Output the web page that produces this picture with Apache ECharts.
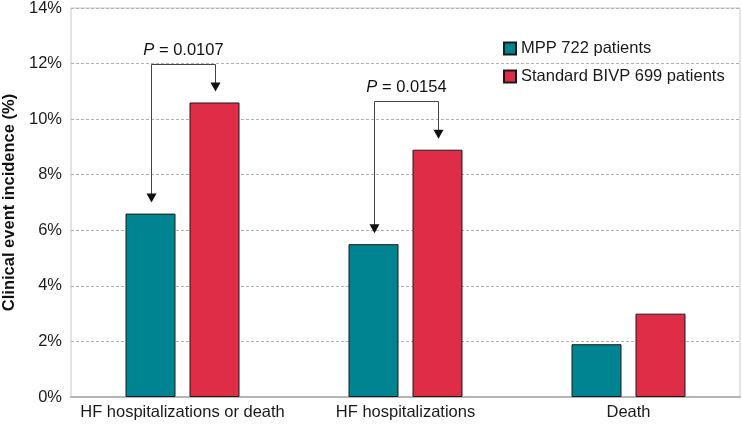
<!DOCTYPE html>
<html>
<head>
<meta charset="utf-8">
<script src="https://cdn.jsdelivr.net/npm/echarts@6/dist/echarts.min.js"></script>
<style>
  html, body { margin: 0; padding: 0; background: #fff; }
  #main { width: 742px; height: 426px; }
</style>
</head>
<body>
<div id="main"></div>
<script>
// categories and values (%)
var categories = ['HF hospitalizations or death', 'HF hospitalizations', 'Death'];
var mppValues = [6.6, 5.5, 1.9];
var bivpValues = [10.6, 8.9, 3.0];
var seriesNames = ['MPP 722 patients', 'Standard BIVP 699 patients'];

// p-value brackets: category index, bracket top (%), label
var pCategory = [0, 1];
var pTop = [12, 10.65];
var pText = ['0.0107', '0.0154'];

var BAR_W = 50;
var BAR_GAP = 14;
var FS = 16.5;
var FONT = '"Liberation Sans", Arial, Helvetica, sans-serif';

var myChart = echarts.init(document.getElementById('main'));

var bracketData = [];
for (var i = 0; i < pCategory.length; i++) {
    var c = pCategory[i];
    bracketData.push([c, pTop[i], mppValues[c], bivpValues[c], pText[i]]);
}

function arrowHead(x, y) {
    return {
        type: 'polygon',
        shape: { points: [[x - 5, y - 9], [x + 5, y - 9], [x, y]] },
        style: { fill: '#111' }
    };
}

myChart.setOption({
    backgroundColor: '#fff',
    textStyle: { fontFamily: FONT },
    grid: {
        left: 71, right: 2, top: 8, bottom: 29,
        outerBoundsMode: 'none',
        containLabel: false,
        show: true, borderColor: '#c8c8c8', borderWidth: 1
    },
    legend: {
        orient: 'vertical',
        left: 503, top: 40,
        padding: 0,
        itemWidth: 12, itemHeight: 12, itemGap: 11,
        icon: 'rect',
        data: seriesNames,
        textStyle: { fontSize: FS, color: '#1a1a1a', fontFamily: FONT }
    },
    xAxis: {
        type: 'category',
        data: categories,
        axisTick: { show: false },
        axisLine: { lineStyle: { color: '#b5b5b5', width: 2 } },
        axisLabel: { interval: 0, fontSize: FS, color: '#1a1a1a', margin: 7 }
    },
    yAxis: {
        type: 'value',
        min: 0, max: 14, interval: 2,
        name: 'Clinical event incidence (%)',
        nameLocation: 'middle',
        nameRotate: 90,
        nameGap: 52,
        nameTextStyle: { fontSize: FS, fontWeight: 'bold', color: '#111' },
        axisLine: { show: false },
        axisTick: { show: false },
        axisLabel: { formatter: '{value}%', fontSize: FS, color: '#1a1a1a', margin: 9 },
        splitLine: { lineStyle: { type: [3, 2], color: '#b0b0b0', width: 1 } }
    },
    series: [
        {
            name: seriesNames[0],
            type: 'bar',
            barWidth: BAR_W,
            barGap: (BAR_GAP / BAR_W * 100) + '%',
            data: mppValues,
            itemStyle: { color: '#008491', borderColor: '#1a1a1a', borderWidth: 1 }
        },
        {
            name: seriesNames[1],
            type: 'bar',
            barWidth: BAR_W,
            data: bivpValues,
            itemStyle: { color: '#E02D47', borderColor: '#1a1a1a', borderWidth: 1 }
        },
        {
            // P-value brackets with arrows
            type: 'custom',
            silent: true,
            z: 5,
            data: bracketData,
            renderItem: function (params, api) {
                var off = (BAR_W + BAR_GAP) / 2;
                var top = api.coord([api.value(0), api.value(1)]);
                var lowY = api.coord([api.value(0), api.value(2)])[1] - 11;
                var highY = api.coord([api.value(0), api.value(3)])[1] - 11;
                var xl = Math.round(top[0] - off) + 0.5;
                var xr = Math.round(top[0] + off) + 0.5;
                var yt = Math.round(top[1]) + 0.5;
                var ls = { stroke: '#444', lineWidth: 1, fill: null };
                return {
                    type: 'group',
                    children: [
                        { type: 'polyline', shape: { points: [[xl, lowY - 8], [xl, yt], [xr, yt], [xr, highY - 8]] }, style: ls },
                        arrowHead(xl, lowY),
                        arrowHead(xr, highY),
                        {
                            type: 'text',
                            x: (xl + xr) / 2,
                            y: yt - 6,
                            style: {
                                text: '{i|P} = ' + api.value(4),
                                rich: { i: { fontStyle: 'italic', fontSize: FS, fill: '#111', fontFamily: FONT } },
                                fontSize: FS,
                                fill: '#111',
                                fontFamily: FONT,
                                align: 'center',
                                verticalAlign: 'bottom'
                            }
                        }
                    ]
                };
            }
        }
    ]
});
</script>
</body>
</html>
